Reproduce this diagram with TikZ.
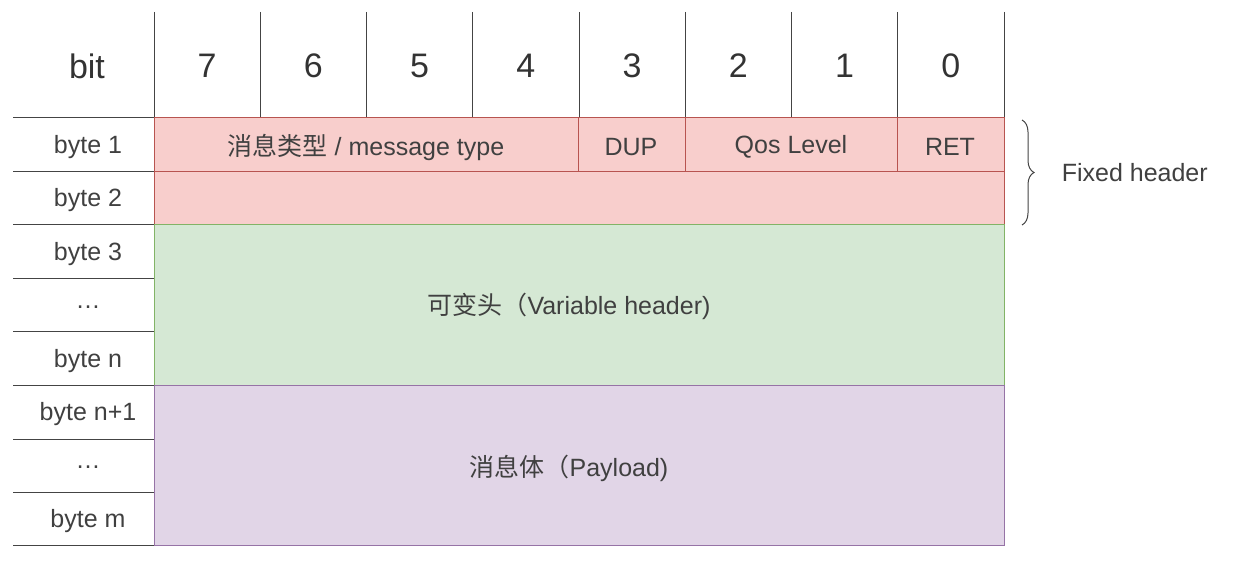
\documentclass[tikz,border=0pt]{standalone}
\usepackage{fontspec}
\setmainfont{Liberation Sans}
\newfontfamily\cjk{Noto Sans CJK SC}
\usetikzlibrary{decorations.pathreplacing}
\definecolor{redfill}{HTML}{F8CECC}
\definecolor{redline}{HTML}{B85450}
\definecolor{greenfill}{HTML}{D5E8D4}
\definecolor{greenline}{HTML}{82B366}
\definecolor{purplefill}{HTML}{E1D5E7}
\definecolor{purpleline}{HTML}{9673A6}
\definecolor{gridline}{HTML}{444444}
\tikzset{
  gridrule/.style={draw=gridline, line width=1pt},
  fieldbox/.style={line width=1pt},
  bytelabel/.style={font=\fontsize{25}{28}\selectfont, text=black!75},
  bitlabel/.style={font=\fontsize{34}{38}\selectfont, text=black!80},
}
\begin{document}
\begin{tikzpicture}[x=1pt,y=-1pt]
  \useasboundingbox (0,0) rectangle (1240,577);

  % header row
  \foreach \i in {0,...,8} {
    \draw[gridrule] (154+\i*106.25,12) -- (154+\i*106.25,118);
  }
  \node[bitlabel] (bit) at (87,66) {bit};
  \foreach \b [count=\i from 0] in {7,6,5,4,3,2,1,0} {
    \node[bitlabel] (b\b) at (207+\i*106.25,66) {\b};
  }

  % byte labels
  \foreach \y in {118,172,225,279,332,385,439,492,545} {
    \draw[gridrule] (13,\y) -- (154,\y);
  }
  \foreach \t [count=\i from 0] in {byte 1,byte 2,byte 3,\dots,byte n,byte n+1,\dots,byte m} {
    \node[bytelabel] (row\i) at (88,147+\i*53.4) {\t};
  }

  % fixed header
  \draw[fieldbox, fill=redfill, draw=redline] (154,118) rectangle (1004,225);
  \draw[fieldbox, draw=redline] (154,172) -- (1004,172);
  \draw[fieldbox, draw=redline] (578,118) -- (578,172);
  \draw[fieldbox, draw=redline] (685,118) -- (685,172);
  \draw[fieldbox, draw=redline] (897,118) -- (897,172);
  \node[bytelabel] (msgtype) at (366,147) {{\cjk 消息类型} / message type};
  \node[bytelabel] (dup) at (631,147) {DUP};
  \node[bytelabel] (qos) at (791,147) {Qos Level};
  \node[bytelabel] (ret) at (950,147) {RET};

  % variable header
  \draw[fieldbox, fill=greenfill, draw=greenline] (154,225) rectangle (1004,385);
  \node[bytelabel] (varhead) at (569,306) {{\cjk 可变头（}Variable header)};

  % payload
  \draw[fieldbox, fill=purplefill, draw=purpleline] (154,385) rectangle (1004,545);
  \node[bytelabel] (payload) at (569,468) {{\cjk 消息体（}Payload)};

  % brace
  \coordinate (bracetop) at (1022,120);
  \coordinate (bracebot) at (1022,225);
  \draw[draw=gridline, line width=1pt, decorate, decoration={brace, amplitude=12pt}]
    (bracetop) -- (bracebot) node[midway, right=36pt, bytelabel] (fixed) {Fixed header};
\end{tikzpicture}
\end{document}
